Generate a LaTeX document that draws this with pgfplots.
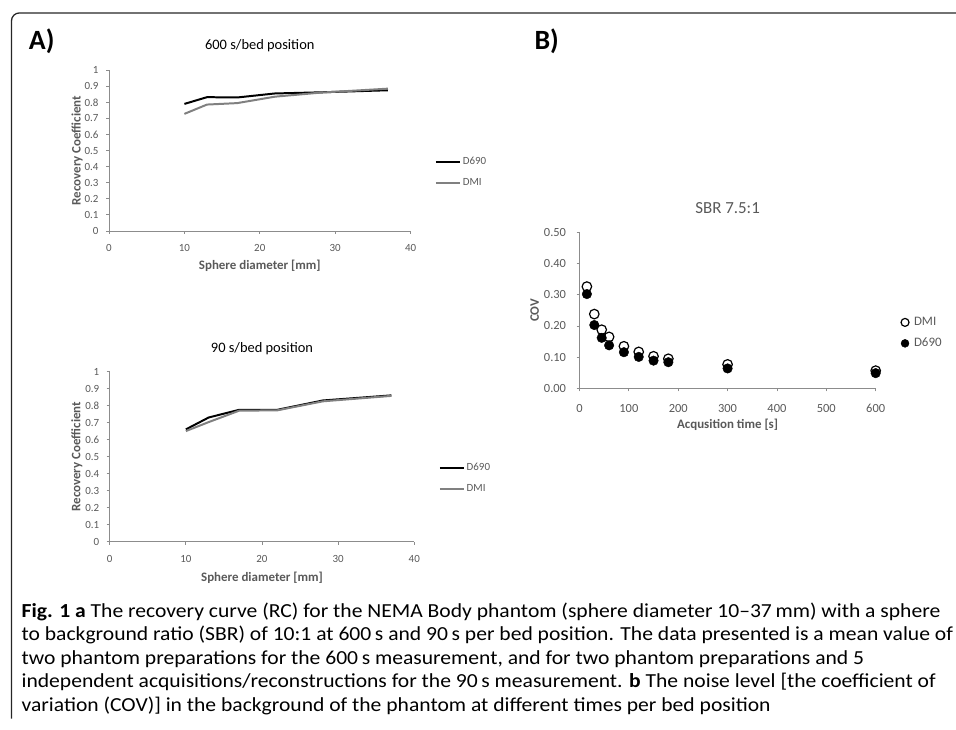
\documentclass[border=0pt]{standalone}
\usepackage{fontspec}
\setmainfont{Carlito}
\usepackage{pgfplots}
\usepackage{pgfplotstable}
\pgfplotsset{compat=1.18}

\definecolor{txtgray}{HTML}{595959}
\definecolor{axgray}{HTML}{8C8C8C}
\definecolor{dmigray}{HTML}{808080}

% recovery coefficients, 600 s and 90 s per bed position
\pgfplotstableread{
d   d690  dmi
10  0.790 0.728
13  0.832 0.786
17  0.830 0.795
22  0.855 0.835
28  0.862 0.860
37  0.875 0.885
}\rcsix
\pgfplotstableread{
d   d690  dmi
10  0.660 0.650
13  0.730 0.703
17  0.775 0.770
22  0.775 0.772
28  0.830 0.825
37  0.860 0.857
}\rcninety
% COV against acquisition time
\pgfplotstableread{
t    dmi   d690
15   0.326 0.302
30   0.238 0.203
45   0.188 0.162
60   0.165 0.138
90   0.135 0.116
120  0.117 0.101
150  0.103 0.089
180  0.095 0.084
300  0.077 0.064
600  0.057 0.049
}\cov

\pgfplotsset{
  excel/.style={
    scale only axis,
    axis x line*=bottom, axis y line*=left,
    axis line style={axgray, line width=0.8pt},
    tick style={axgray, line width=0.8pt},
    tick align=outside, major tick length=3pt,
    minor tick num=0,
    /pgf/number format/assume math mode=true,
    tick label style={text=txtgray},
    label style={text=txtgray, font=\fontsize{13}{15}\selectfont\bfseries, anchor=center},
    legend style={draw=none, fill=none, text=txtgray, inner sep=0pt},
    legend cell align=left,
    clip=false,
  },
  rcplot/.style={
    excel,
    xmin=0, xmax=40, ymin=0, ymax=1,
    xtick={0,10,20,30,40},
    ytick={0,0.1,0.2,0.3,0.4,0.5,0.6,0.7,0.8,0.9,1},
    tick label style={font=\fontsize{11}{13}\selectfont},
    xticklabel style={anchor=north, yshift=-7pt},
    yticklabel style={xshift=-4pt},
    xlabel={Sphere diameter [mm]},
    ylabel={Recovery Coefficient},
    title style={font=\fontsize{14.5}{16}\selectfont, anchor=center},
    legend style={font=\fontsize{11}{13}\selectfont, row sep=8pt},
    legend image code/.code={\draw[#1] (0pt,0pt) -- (24pt,0pt);},
  },
}

\newlength\capw
\newcommand\capone{\textbf{Fig. 1 a} The recovery curve (RC) for the NEMA Body phantom (sphere diameter 10–37\,mm) with a sphere}

\begin{document}
\settowidth\capw{\fontsize{20}{24}\selectfont\capone}
\pgfmathsetmacro\capfac{923/\capw}
\begin{tikzpicture}
\useasboundingbox (0pt,0pt) rectangle (956pt,733pt);
\draw[line width=1.3pt, black!85] (7pt,11pt) -- (7pt,712pt) arc[start angle=180, end angle=90, radius=8pt] -- (956pt,720pt);

\node[anchor=base west, font=\fontsize{28}{30}\selectfont\bfseries] at (21pt,683pt) {A)};
\node[anchor=base west, font=\fontsize{28}{30}\selectfont\bfseries] at (529pt,683pt) {B)};

% A) 600 s
\begin{axis}[rcplot,
  at={(105pt,501pt)}, anchor=south west, width=303pt, height=161.5pt,
  title={600 s/bed position},
  title style={at={(axis description cs:0.5,1)}, yshift=19pt},
  xlabel style={at={(axis description cs:0.5,-0.217)}},
  ylabel style={at={(axis description cs:-0.106,0.5)}},
  legend style={at={(rel axis cs:1.08,0.365)}, anchor=west},
]
\addplot[black, line width=2pt] table[x=d, y=d690] {\rcsix};
\addplot[dmigray, line width=2pt] table[x=d, y=dmi] {\rcsix};
\legend{D690, DMI}
\end{axis}

% A) 90 s
\begin{axis}[rcplot,
  at={(105.7pt,188.7pt)}, anchor=south west, width=306pt, height=171pt,
  title={90 s/bed position},
  title style={at={(axis description cs:0.5,1)}, yshift=17pt},
  xlabel style={at={(axis description cs:0.5,-0.21)}},
  ylabel style={at={(axis description cs:-0.108,0.5)}},
  legend style={at={(rel axis cs:1.08,0.373)}, anchor=west},
]
\addplot[black, line width=2pt] table[x=d, y=d690] {\rcninety};
\addplot[dmigray, line width=2pt] table[x=d, y=dmi] {\rcninety};
\legend{D690, DMI}
\end{axis}

% B) COV
\begin{axis}[excel,
  at={(577.7pt,342.7pt)}, anchor=south west, width=297.6pt, height=157pt,
  xmin=0, xmax=600, ymin=0, ymax=0.5,
  xtick={0,100,200,300,400,500,600},
  xticklabels={0,100,200,300,400,500,600},
  ytick={0,0.1,0.2,0.3,0.4,0.5},
  tick label style={font=\fontsize{12.5}{15}\selectfont},
  xticklabel style={anchor=base, yshift=-21pt},
  yticklabel style={xshift=-7pt, /pgf/number format/.cd, fixed, fixed zerofill, precision=2},
  title={SBR 7.5:1},
  title style={font=\fontsize{17}{19}\selectfont, text=txtgray, anchor=center,
    at={(axis description cs:0.5,1)}, yshift=18pt},
  xlabel={Acqusition time [s]},
  ylabel={COV},
  xlabel style={at={(axis description cs:0.5,-0.23)}},
  ylabel style={at={(axis description cs:-0.151,0.5)}},
  legend style={font=\fontsize{13}{15}\selectfont, row sep=7pt,
    at={(rel axis cs:1.085,0.355)}, anchor=west,
    /tikz/every odd column/.append style={column sep=3pt}},
  legend image post style={mark size=4pt},
]
\addplot[only marks, mark=*, mark size=4.8pt, mark options={draw=black, fill=white, line width=1.2pt}] table[x=t, y=dmi] {\cov};
\addplot[only marks, mark=*, mark size=4.8pt, mark options={draw=black, fill=black}] table[x=t, y=d690] {\cov};
\legend{DMI, D690}
\end{axis}

% caption
\begin{scope}[every node/.style={anchor=base west, inner sep=0pt, font=\fontsize{20}{24}\selectfont}]
\node at (17pt,113pt) {\scalebox{\capfac}[1]{\capone}};
\node at (17pt,89.25pt) {\scalebox{\capfac}[1]{to background ratio (SBR) of 10:1 at 600\,s and 90\,s per bed position. The data presented is a mean value of}};
\node at (17pt,65.5pt) {\scalebox{\capfac}[1]{two phantom preparations for the 600\,s measurement, and for two phantom preparations and 5}};
\node at (17pt,41.75pt) {\scalebox{\capfac}[1]{independent acquisitions/reconstructions for the 90\,s measurement. \textbf{b} The noise level [the coefficient of}};
\node at (17pt,18pt) {\scalebox{\capfac}[1]{variation (COV)] in the background of the phantom at different times per bed position}};
\end{scope}
\end{tikzpicture}
\end{document}
